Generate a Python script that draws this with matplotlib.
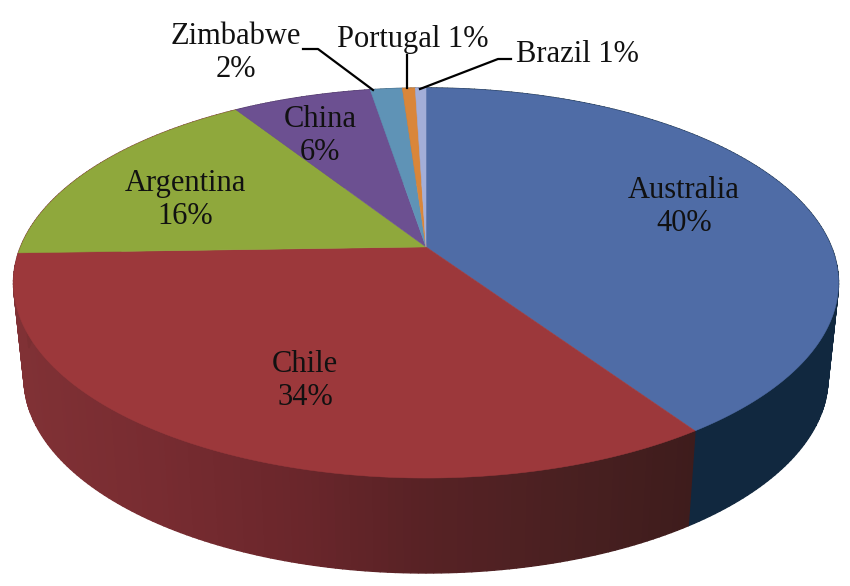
import numpy as np
import matplotlib
matplotlib.use("Agg")
import matplotlib.pyplot as plt

countries = ['Australia', 'Chile', 'Argentina', 'China', 'Zimbabwe', 'Portugal', 'Brazil']
# slice sizes, the printed labels are rounded
shares = [40.5, 34.0, 16.4, 6.5, 1.5, 0.6, 0.5]
printed = [40, 34, 16, 6, 2, 1, 1]
top_colors = ['#4f6ca6', '#9c383b', '#8fa83c', '#6c5091', '#5f93b6', '#d9863a', '#a3aed8']

# side wall colours sampled left to right along the rim
chile_wall_x = [20, 150, 300, 420, 560, 695]
chile_wall_r = [0x80, 0x78, 0x6a, 0x58, 0x4a, 0x3e]
chile_wall_g = [0x31, 0x2c, 0x26, 0x22, 0x20, 0x1c]
chile_wall_b = [0x35, 0x31, 0x2b, 0x25, 0x21, 0x1c]
wall_dark = ['#11283f', None, '#7a2f32', '#46305c', '#3a5c74', '#8a5524', '#666e8a']

# pie outline in pixels, perspective pulls the centre up
cx, cy, a, b = 426, 283, 412.5, 195
bx, by, ba, bb = 426, 378, 402, 195
persp = 0.185


def rim(theta, x0, y0, ra, rb):
    u, v = np.sin(theta), np.cos(theta)
    d = 1 + persp * v
    return x0 + ra * u * np.sqrt(1 - persp ** 2) / d, y0 - rb * (v + persp) / d


fig = plt.figure(figsize=(8.5, 5.86), dpi=100)
ax = fig.add_axes([0, 0, 1, 1])
ax.set_xlim(0, 850)
ax.set_ylim(586, 0)
ax.axis('off')

edges = np.cumsum([0] + shares) / sum(shares) * 2 * np.pi

# side wall, thin strips so Chile can have its gradient
for i in range(len(shares)):
    n = max(3, int(shares[i] * 4))
    th = np.linspace(edges[i], edges[i + 1], n + 1)
    for t0, t1 in zip(th[:-1], th[1:]):
        x0, y0 = rim(t0, cx, cy, a, b)
        x1, y1 = rim(t1, cx, cy, a, b)
        x2, y2 = rim(t1, bx, by, ba, bb)
        x3, y3 = rim(t0, bx, by, ba, bb)
        if countries[i] == 'Chile':
            xm = (x0 + x1) / 2
            col = (np.interp(xm, chile_wall_x, chile_wall_r) / 255,
                   np.interp(xm, chile_wall_x, chile_wall_g) / 255,
                   np.interp(xm, chile_wall_x, chile_wall_b) / 255)
        else:
            col = wall_dark[i]
        ax.fill([x0, x1, x2, x3], [y0, y1, y2, y3], color=col, lw=1.0, zorder=1)

# top of the pie
for i in range(len(shares)):
    th = np.linspace(edges[i], edges[i + 1], 200)
    xs, ys = rim(th, cx, cy, a, b)
    ax.fill(np.r_[cx, xs], np.r_[cy - b * persp, ys], color=top_colors[i], lw=0.4, zorder=2)

# leader lines
ax.plot([303, 318, 373], [49, 49, 90], color='black', lw=1.6, zorder=3)
ax.plot([407, 407], [55, 88], color='black', lw=1.6, zorder=3)
ax.plot([511, 498, 420], [59, 59, 89], color='black', lw=1.6, zorder=3)

# labels
font = dict(family='Liberation Serif', fontsize=22, color='#111111', ha='center', va='center', zorder=4, linespacing=1.22)
labels = ['%s\n%d%%' % (c, s) for c, s in zip(countries, printed)]
ax.text(684, 207, labels[0], **font)
ax.text(305, 381, labels[1], **font)
ax.text(185, 200, labels[2], **font)
ax.text(320, 136, labels[3], **font)
ax.text(236, 53, labels[4], **font)
ax.text(413, 39, 'Portugal %d%%' % printed[5], **font)
ax.text(577, 54, 'Brazil %d%%' % printed[6], **font)

fig.savefig('out.png', dpi=100)
